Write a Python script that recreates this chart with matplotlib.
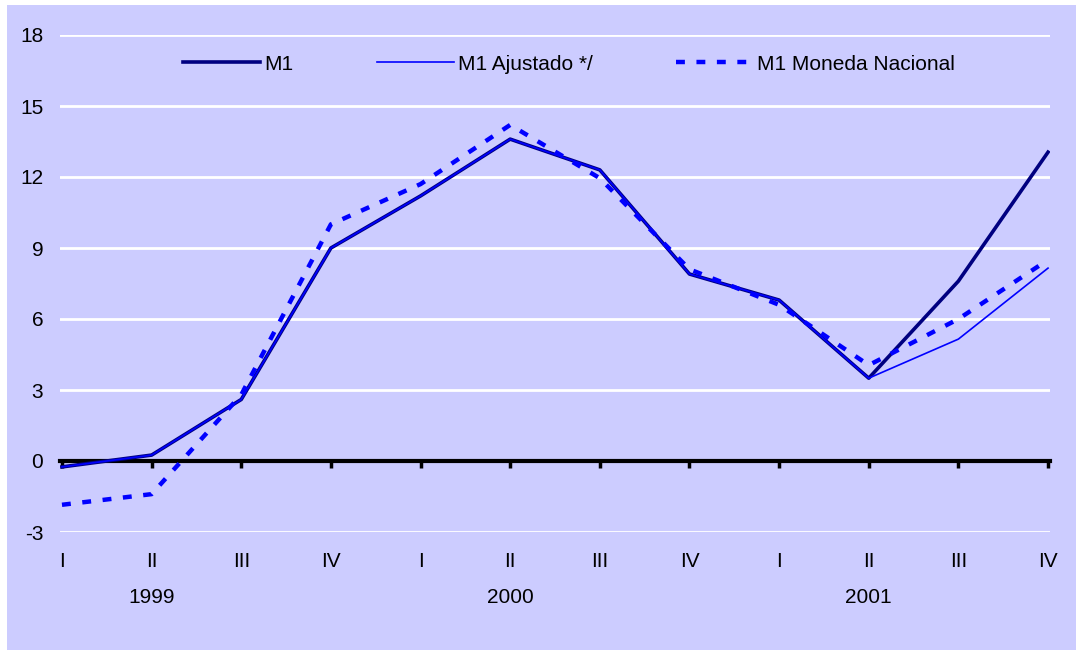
import matplotlib
matplotlib.use("Agg")
import matplotlib.pyplot as plt
from matplotlib.patches import Rectangle

plt.rcParams['font.family'] = ['Liberation Sans', 'DejaVu Sans']

# Datos trimestrales (variacion %)
trimestres = ['I', 'II', 'III', 'IV', 'I', 'II', 'III', 'IV', 'I', 'II', 'III', 'IV']
anios = ['1999', '2000', '2001']
m1 = [-0.25, 0.25, 2.6, 9.0, 11.2, 13.6, 12.3, 7.9, 6.8, 3.5, 7.6, 13.05]
m1_ajustado = [-0.25, 0.25, 2.6, 9.0, 11.2, 13.6, 12.3, 7.9, 6.8, 3.5, 5.15, 8.15]
m1_mn = [-1.85, -1.4, 2.8, 10.0, 11.7, 14.2, 11.95, 8.1, 6.6, 4.05, 6.0, 8.5]

fondo = '#CCCCFF'
x = list(range(len(trimestres)))

fig = plt.figure(figsize=(10.76, 6.5), dpi=100, facecolor='white')
fig.patches.append(Rectangle((7 / 1076, 0), 1, 1 - 5 / 650, transform=fig.transFigure,
                             facecolor=fondo, edgecolor='none', zorder=-10))
ax = fig.add_axes([60 / 1076, 1 - 532 / 650, 990 / 1076, (532 - 35) / 650])
ax.set_facecolor(fondo)

ax.plot(x, m1, color='#000080', lw=2.6, label='M1', zorder=3, solid_joinstyle='round')
ax.plot(x, m1_ajustado, color='#0000FF', lw=1.2, label='M1 Ajustado */', zorder=4)
ax.plot(x, m1_mn, color='#0000FF', lw=3.2, dashes=(2, 2.6), label='M1 Moneda Nacional', zorder=5)

ax.set_xlim(-0.022, 11.022)
ax.set_ylim(-3, 18)
ax.set_yticks([-3, 0, 3, 6, 9, 12, 15, 18])
ax.set_yticklabels(['-3', '0', '3', '6', '9', '12', '15', '18'])
for v in [-3, 3, 6, 9, 12, 15, 18]:
    ax.axhline(v, color='white', lw=2, zorder=1)

for s in ['top', 'right', 'left']:
    ax.spines[s].set_visible(False)
ax.spines['bottom'].set_position(('data', 0))
ax.spines['bottom'].set_linewidth(3)
ax.spines['bottom'].set_zorder(2)
ax.set_xticks(x)
ax.tick_params(axis='x', direction='out', length=5, width=2.5, labelbottom=False)
ax.tick_params(axis='y', length=0, pad=12, labelsize=15)

for i, t in enumerate(trimestres):
    ax.text(i, -4.25, t, ha='center', va='center', fontsize=15, clip_on=False)
for k, a in enumerate(anios):
    ax.text(1 + 4 * k, -5.75, a, ha='center', va='center', fontsize=15, clip_on=False)

fig.legend(loc='center', bbox_to_anchor=(0.529, 1 - 64 / 650), ncol=3, frameon=False,
           fontsize=15, handlelength=3.7, handletextpad=0.2, columnspacing=4.0)

fig.savefig('out.png', dpi=100, facecolor=fig.get_facecolor())
